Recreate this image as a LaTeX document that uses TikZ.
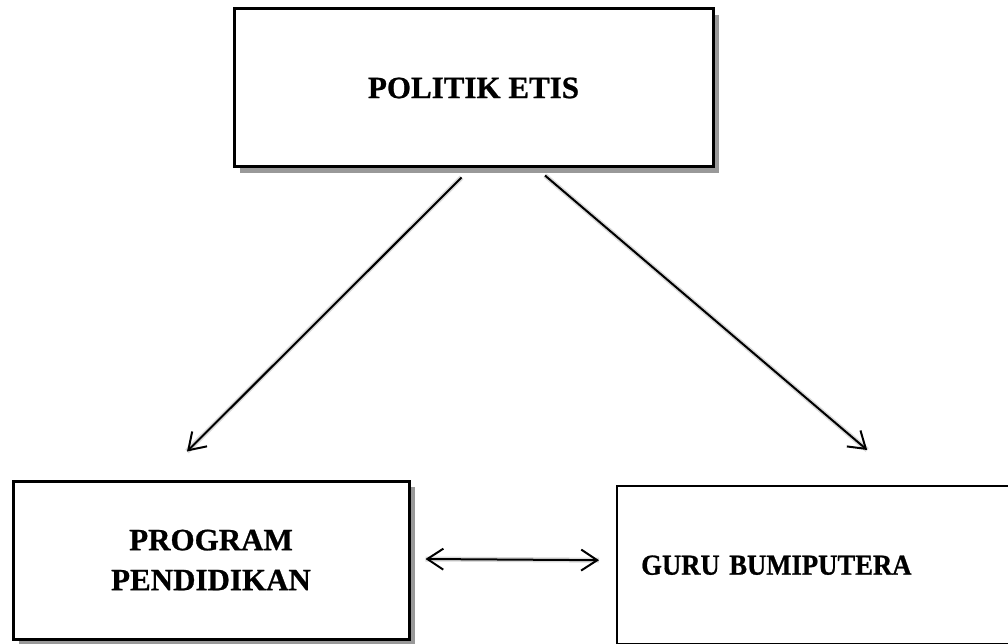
\documentclass[tikz,border=0pt]{standalone}
\usepackage{fontspec}
\setmainfont{Liberation Serif}[BoldFeatures={FakeBold=0.8}]
\usetikzlibrary{shadows,arrows.meta,calc}
\begin{document}
\begin{tikzpicture}[x=1pt,y=-1pt,
  box/.style={draw=black, line width=3pt, fill=white, inner sep=0pt,
    font=\fontsize{31}{40}\selectfont\bfseries},
  shad/.style={drop shadow={shadow xshift=6pt, shadow yshift=-6pt, fill=black!40, opacity=1}},
  arr/.style={line width=2pt, black},
  barb/.style={-{Straight Barb[length=16pt,width=21pt,line width=2pt]}},
  dbarb/.style={{Straight Barb[length=16pt,width=21pt,line width=2pt]}-{Straight Barb[length=16pt,width=21pt,line width=2pt]}},
  ashadow/.style={line width=5pt, black, opacity=0.15},
]
\useasboundingbox (0,0) rectangle (1008,644);

\node[box, shad, minimum width=479pt, minimum height=158pt] (top) at (473.5,88) {POLITIK ETIS};
\node[box, shad, minimum width=396pt, minimum height=158pt, align=center] (prog) at (211,560) {PROGRAM\\PENDIDIKAN};
\node[box, line width=2.4pt, anchor=north west, minimum height=158pt, text width=350pt,
      inner xsep=24pt, align=left] (guru) at (616,485)
      {\raisebox{-3pt}{\fontsize{29}{36}\selectfont\bfseries\scalebox{0.92}[1]{GURU BUMIPUTERA}}};

% soft shadows of connectors
\begin{scope}[shift={(3,5)}]
  \draw[ashadow] ([shift={(-12,9)}]top.south) -- ([shift={(-24,-28)}]prog.north);
  \draw[ashadow] ([shift={(71.5,7)}]top.south) -- ([shift={(51,-35)}]guru.north);
  \draw[ashadow] ([shift={(15,-1)}]prog.east) -- ([shift={(-17,-5)}]guru.west);
\end{scope}

% connectors
\draw[arr, barb] ([shift={(-12,9)}]top.south) -- ([shift={(-24,-28)}]prog.north);
\draw[arr, barb] ([shift={(71.5,7)}]top.south) -- ([shift={(51,-35)}]guru.north);
\draw[arr, dbarb] ([shift={(15,-1)}]prog.east) -- ([shift={(-17,-5)}]guru.west);
\end{tikzpicture}
\end{document}
